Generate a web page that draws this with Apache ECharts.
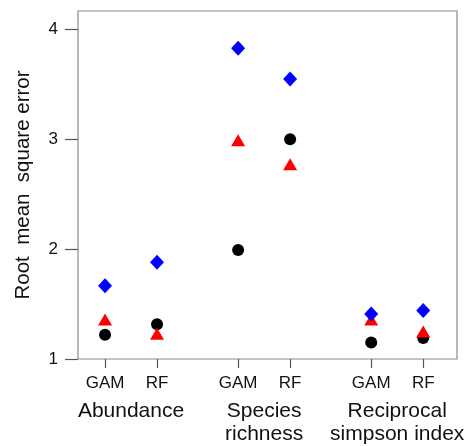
<!DOCTYPE html>
<html>
<head>
<meta charset="utf-8">
<script src="https://cdn.jsdelivr.net/npm/echarts@6/dist/echarts.min.js"></script>
<style>html,body{margin:0;padding:0;background:#fff;}#c{width:469px;height:446px;}</style>
</head>
<body>
<div id="c"></div>
<script>
// Data
var methods = ['GAM', 'RF', 'GAM', 'RF', 'GAM', 'RF'];
var groups = ['Abundance', 'Species\nrichness', 'Reciprocal\nsimpson index'];
var seriesBlack = [1.22, 1.315, 1.99, 2.997, 1.15, 1.19];
var seriesRed = [1.36, 1.23, 2.99, 2.77, 1.36, 1.25];
var seriesBlue = [1.666, 1.88, 3.825, 3.545, 1.41, 1.44];
var yTicks = [1, 2, 3, 4];

// Layout helpers (positions along x derived from category index)
var firstOffset = 0.52, groupGap = 2.56;
function xPos(i) { return firstOffset + (i % 2) + Math.floor(i / 2) * groupGap; }
var tickPos = methods.map(function (m, i) { return +xPos(i).toFixed(3); });
var groupPos = groups.map(function (g, k) { return +((xPos(2 * k) + xPos(2 * k + 1)) / 2).toFixed(3); });
function labelAt(list, posArr) {
  return function (v) {
    for (var i = 0; i < posArr.length; i++) if (Math.abs(posArr[i] - v) < 1e-6) return list[i];
    return '';
  };
}
function pts(arr) { return arr.map(function (v, i) { return [tickPos[i], v]; }); }

var font = 'Liberation Sans, Arial, sans-serif';
var chart = echarts.init(document.getElementById('c'), null, { renderer: 'canvas' });
chart.setOption({
  animation: false,
  grid: { left: 78, right: 12, top: 11, bottom: 87, show: true, borderColor: '#8a8a8a', borderWidth: 1.2, backgroundColor: 'transparent' },
  xAxis: [{
    type: 'value', min: 0, max: 7.29, position: 'bottom',
    axisLine: { show: false },
    splitLine: { show: false },
    axisTick: { show: true, customValues: tickPos, length: 9, inside: false, lineStyle: { color: '#555', width: 1.2 } },
    axisLabel: { customValues: tickPos, formatter: labelAt(methods, tickPos), margin: 16, fontFamily: font, fontSize: 17, color: '#111' }
  }, {
    type: 'value', min: 0, max: 7.29, position: 'bottom',
    axisLine: { show: false }, splitLine: { show: false },
    axisTick: { show: false, customValues: groupPos },
    axisLabel: { customValues: groupPos, formatter: labelAt(groups, groupPos), margin: 41, fontFamily: font, fontSize: 21, lineHeight: 23, color: '#111', verticalAlign: 'top' }
  }],
  yAxis: {
    type: 'value', min: 1, max: 4.164,
    name: 'Root  mean  square error', nameLocation: 'middle', nameGap: 44,
    nameTextStyle: { fontFamily: font, fontSize: 20.5, color: '#111' },
    axisLine: { show: false }, splitLine: { show: false },
    axisTick: { show: true, customValues: yTicks, length: 13, lineStyle: { color: '#555', width: 1.2 } },
    axisLabel: { customValues: yTicks, margin: 20, fontFamily: font, fontSize: 17, color: '#111' }
  },
  series: [
    { type: 'scatter', name: 'black', symbol: 'circle', symbolSize: 12, itemStyle: { color: '#000', opacity: 1 }, data: pts(seriesBlack), z: 3 },
    { type: 'scatter', name: 'red', symbol: 'triangle', symbolSize: [14, 12], itemStyle: { color: '#ff0000', opacity: 1 }, data: pts(seriesRed), z: 4 },
    { type: 'scatter', name: 'blue', symbol: 'diamond', symbolSize: [14, 15], itemStyle: { color: '#0000ff', opacity: 1 }, data: pts(seriesBlue), z: 5 }
  ]
});
</script>
</body>
</html>
